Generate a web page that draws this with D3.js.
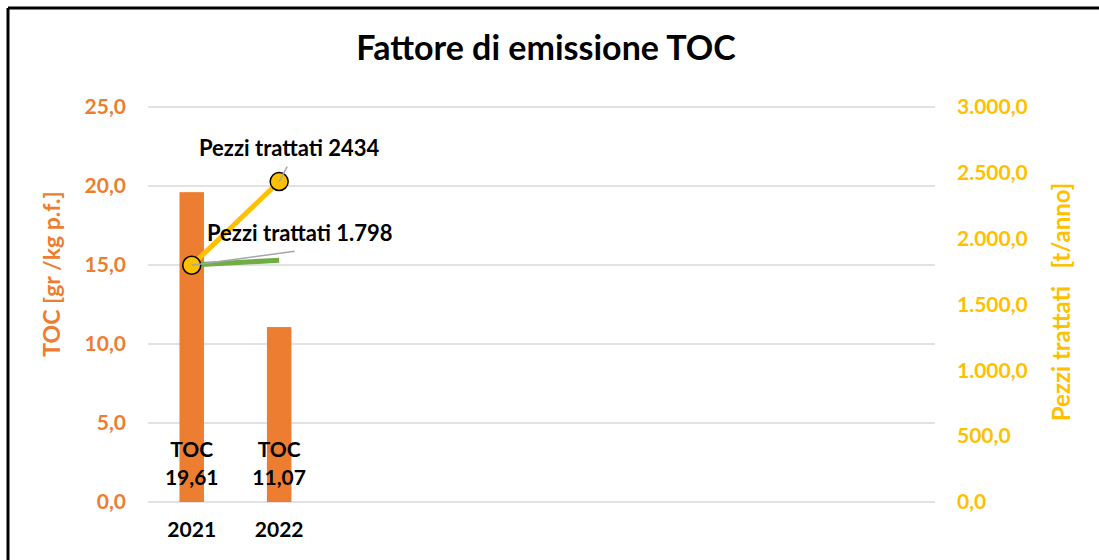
<!DOCTYPE html>
<html>
<head>
<meta charset="utf-8">
<script src="https://cdn.jsdelivr.net/npm/d3@7"></script>
<style>
  body { margin: 0; background: #fff; }
  text { font-family: Lato, "Open Sans", sans-serif; }
</style>
</head>
<body>
<div id="chart"></div>
<script>
// categories (only the first two years have a label)
var years = ["2021", "2022", "", "", "", "", "", "", ""];
var tocValues = [19.61, 11.07];
var tocLabels = ["19,61", "11,07"];
var pezzi = [1798, 2434];
var pezziLabels = ["Pezzi trattati 1.798", "Pezzi trattati 2434"];
var greenValues = [15.0, 15.3];
var leftTicks = [0, 5, 10, 15, 20, 25];
var rightTicks = [0, 500, 1000, 1500, 2000, 2500, 3000];

var W = 1099, H = 560;
var margin = {top: 107, right: 164, bottom: 58, left: 148},
    width = W - margin.left - margin.right,
    height = H - margin.top - margin.bottom;

var orange = "#ED7D31", yellow = "#FFC000", green = "#70AD47";
var fs = "21px";

var svg = d3.select("#chart").append("svg")
    .attr("width", W)
    .attr("height", H);

// frame
svg.append("line").attr("x1", 8).attr("x2", W).attr("y1", 8).attr("y2", 8)
  .attr("stroke", "#000").attr("stroke-width", 3);
svg.append("line").attr("x1", 8).attr("x2", 8).attr("y1", 8).attr("y2", H)
  .attr("stroke", "#000").attr("stroke-width", 3);

svg.append("text")
  .attr("x", 546).attr("y", 60)
  .attr("text-anchor", "middle")
  .style("font-size", "34px").style("font-weight", "bold")
  .text("Fattore di emissione TOC");

var g = svg.append("g")
  .attr("transform", "translate(" + margin.left + "," + margin.top + ")");

var x = d3.scaleBand()
  .domain(d3.range(years.length))
  .range([0, width])
  .paddingInner(0.72).paddingOuter(0.36);

var yL = d3.scaleLinear().domain([0, 25]).range([height, 0]);
var yR = d3.scaleLinear().domain([0, 3000]).range([height, 0]);

var fmtL = function(d) { return d3.format(".1f")(d).replace(".", ","); };
var fmtR = function(d) {
  return d3.format(",.1f")(d).replace(/,/g, "#").replace(".", ",").replace(/#/g, ".");
};

// gridlines
g.append("g")
  .selectAll("line").data(leftTicks).enter().append("line")
  .attr("x1", 0).attr("x2", width)
  .attr("y1", function(d) { return yL(d); })
  .attr("y2", function(d) { return yL(d); })
  .attr("stroke", "#d9d9d9").attr("stroke-width", 1.5);

// left axis
var axL = g.append("g")
  .call(d3.axisLeft(yL).tickValues(leftTicks).tickFormat(fmtL).tickSize(0).tickPadding(22));
axL.select(".domain").remove();
axL.selectAll("text").attr("fill", orange)
  .style("font-size", fs).style("font-weight", "bold")
  .style("font-family", "Lato, sans-serif");

// right axis
var axR = g.append("g")
  .attr("transform", "translate(" + width + ",0)")
  .call(d3.axisRight(yR).tickValues(rightTicks).tickFormat(fmtR).tickSize(0).tickPadding(22));
axR.select(".domain").remove();
axR.selectAll("text").attr("fill", yellow)
  .style("font-size", fs).style("font-weight", "bold")
  .style("font-family", "Lato, sans-serif");

// x axis labels
var axX = g.append("g")
  .attr("transform", "translate(0," + height + ")")
  .call(d3.axisBottom(x).tickFormat(function(i) { return years[i]; }).tickSize(0).tickPadding(20));
axX.select(".domain").remove();
axX.selectAll("text").attr("fill", "#000")
  .style("font-size", fs).style("font-weight", "bold")
  .style("font-family", "Lato, sans-serif");

// bars
g.selectAll(".bar").data(tocValues).enter().append("rect")
  .attr("x", function(d, i) { return x(i); })
  .attr("width", x.bandwidth())
  .attr("y", function(d) { return yL(d); })
  .attr("height", function(d) { return height - yL(d); })
  .attr("fill", orange);

var cx = function(i) { return x(i) + x.bandwidth() / 2; };

// bar labels
var lab = g.selectAll(".blab").data(tocValues).enter().append("text")
  .attr("text-anchor", "middle")
  .style("font-size", fs).style("font-weight", "bold")
  .attr("fill", "#000");
lab.append("tspan").attr("x", function(d, i) { return cx(i); })
  .attr("y", height - 45).text("TOC");
lab.append("tspan").attr("x", function(d, i) { return cx(i); })
  .attr("y", height - 17).text(function(d, i) { return tocLabels[i]; });

// green line
g.append("path").datum(greenValues)
  .attr("fill", "none").attr("stroke", green).attr("stroke-width", 5)
  .attr("d", d3.line().x(function(d, i) { return cx(i); }).y(function(d) { return yL(d); }));

// yellow line
g.append("path").datum(pezzi)
  .attr("fill", "none").attr("stroke", yellow).attr("stroke-width", 5)
  .attr("d", d3.line().x(function(d, i) { return cx(i); }).y(function(d) { return yR(d); }));

g.selectAll(".pt").data(pezzi).enter().append("circle")
  .attr("cx", function(d, i) { return cx(i); })
  .attr("cy", function(d) { return yR(d); })
  .attr("r", 9)
  .attr("fill", yellow).attr("stroke", "#000").attr("stroke-width", 1.5);

// leader lines
var leaders = [[103, -14], [8, -15]];
g.selectAll(".lead").data(pezzi).enter().append("line")
  .attr("x1", function(d, i) { return cx(i); })
  .attr("y1", function(d) { return yR(d); })
  .attr("x2", function(d, i) { return cx(i) + leaders[i][0]; })
  .attr("y2", function(d, i) { return yR(d) + leaders[i][1]; })
  .attr("stroke", "#a6a6a6").attr("stroke-width", 1.5);

var labOff = [[108, -24], [10, -26]];
g.selectAll(".plab").data(pezzi).enter().append("text")
  .attr("x", function(d, i) { return cx(i) + labOff[i][0]; })
  .attr("y", function(d, i) { return yR(d) + labOff[i][1]; })
  .attr("text-anchor", "middle")
  .style("font-size", "22px").style("font-weight", "bold")
  .attr("fill", "#000")
  .text(function(d, i) { return pezziLabels[i]; });

// axis titles
svg.append("text")
  .attr("transform", "translate(60,274) rotate(-90)")
  .attr("text-anchor", "middle")
  .attr("fill", orange)
  .style("font-size", "23px").style("font-weight", "bold")
  .text("TOC [gr /kg p.f.]");

svg.append("text")
  .attr("transform", "translate(1070,302) rotate(-90)")
  .attr("text-anchor", "middle")
  .attr("fill", yellow)
  .style("font-size", "24px").style("font-weight", "bold")
  .style("white-space", "pre")
  .text("Pezzi trattati   [t/anno]");
</script>
</body>
</html>
